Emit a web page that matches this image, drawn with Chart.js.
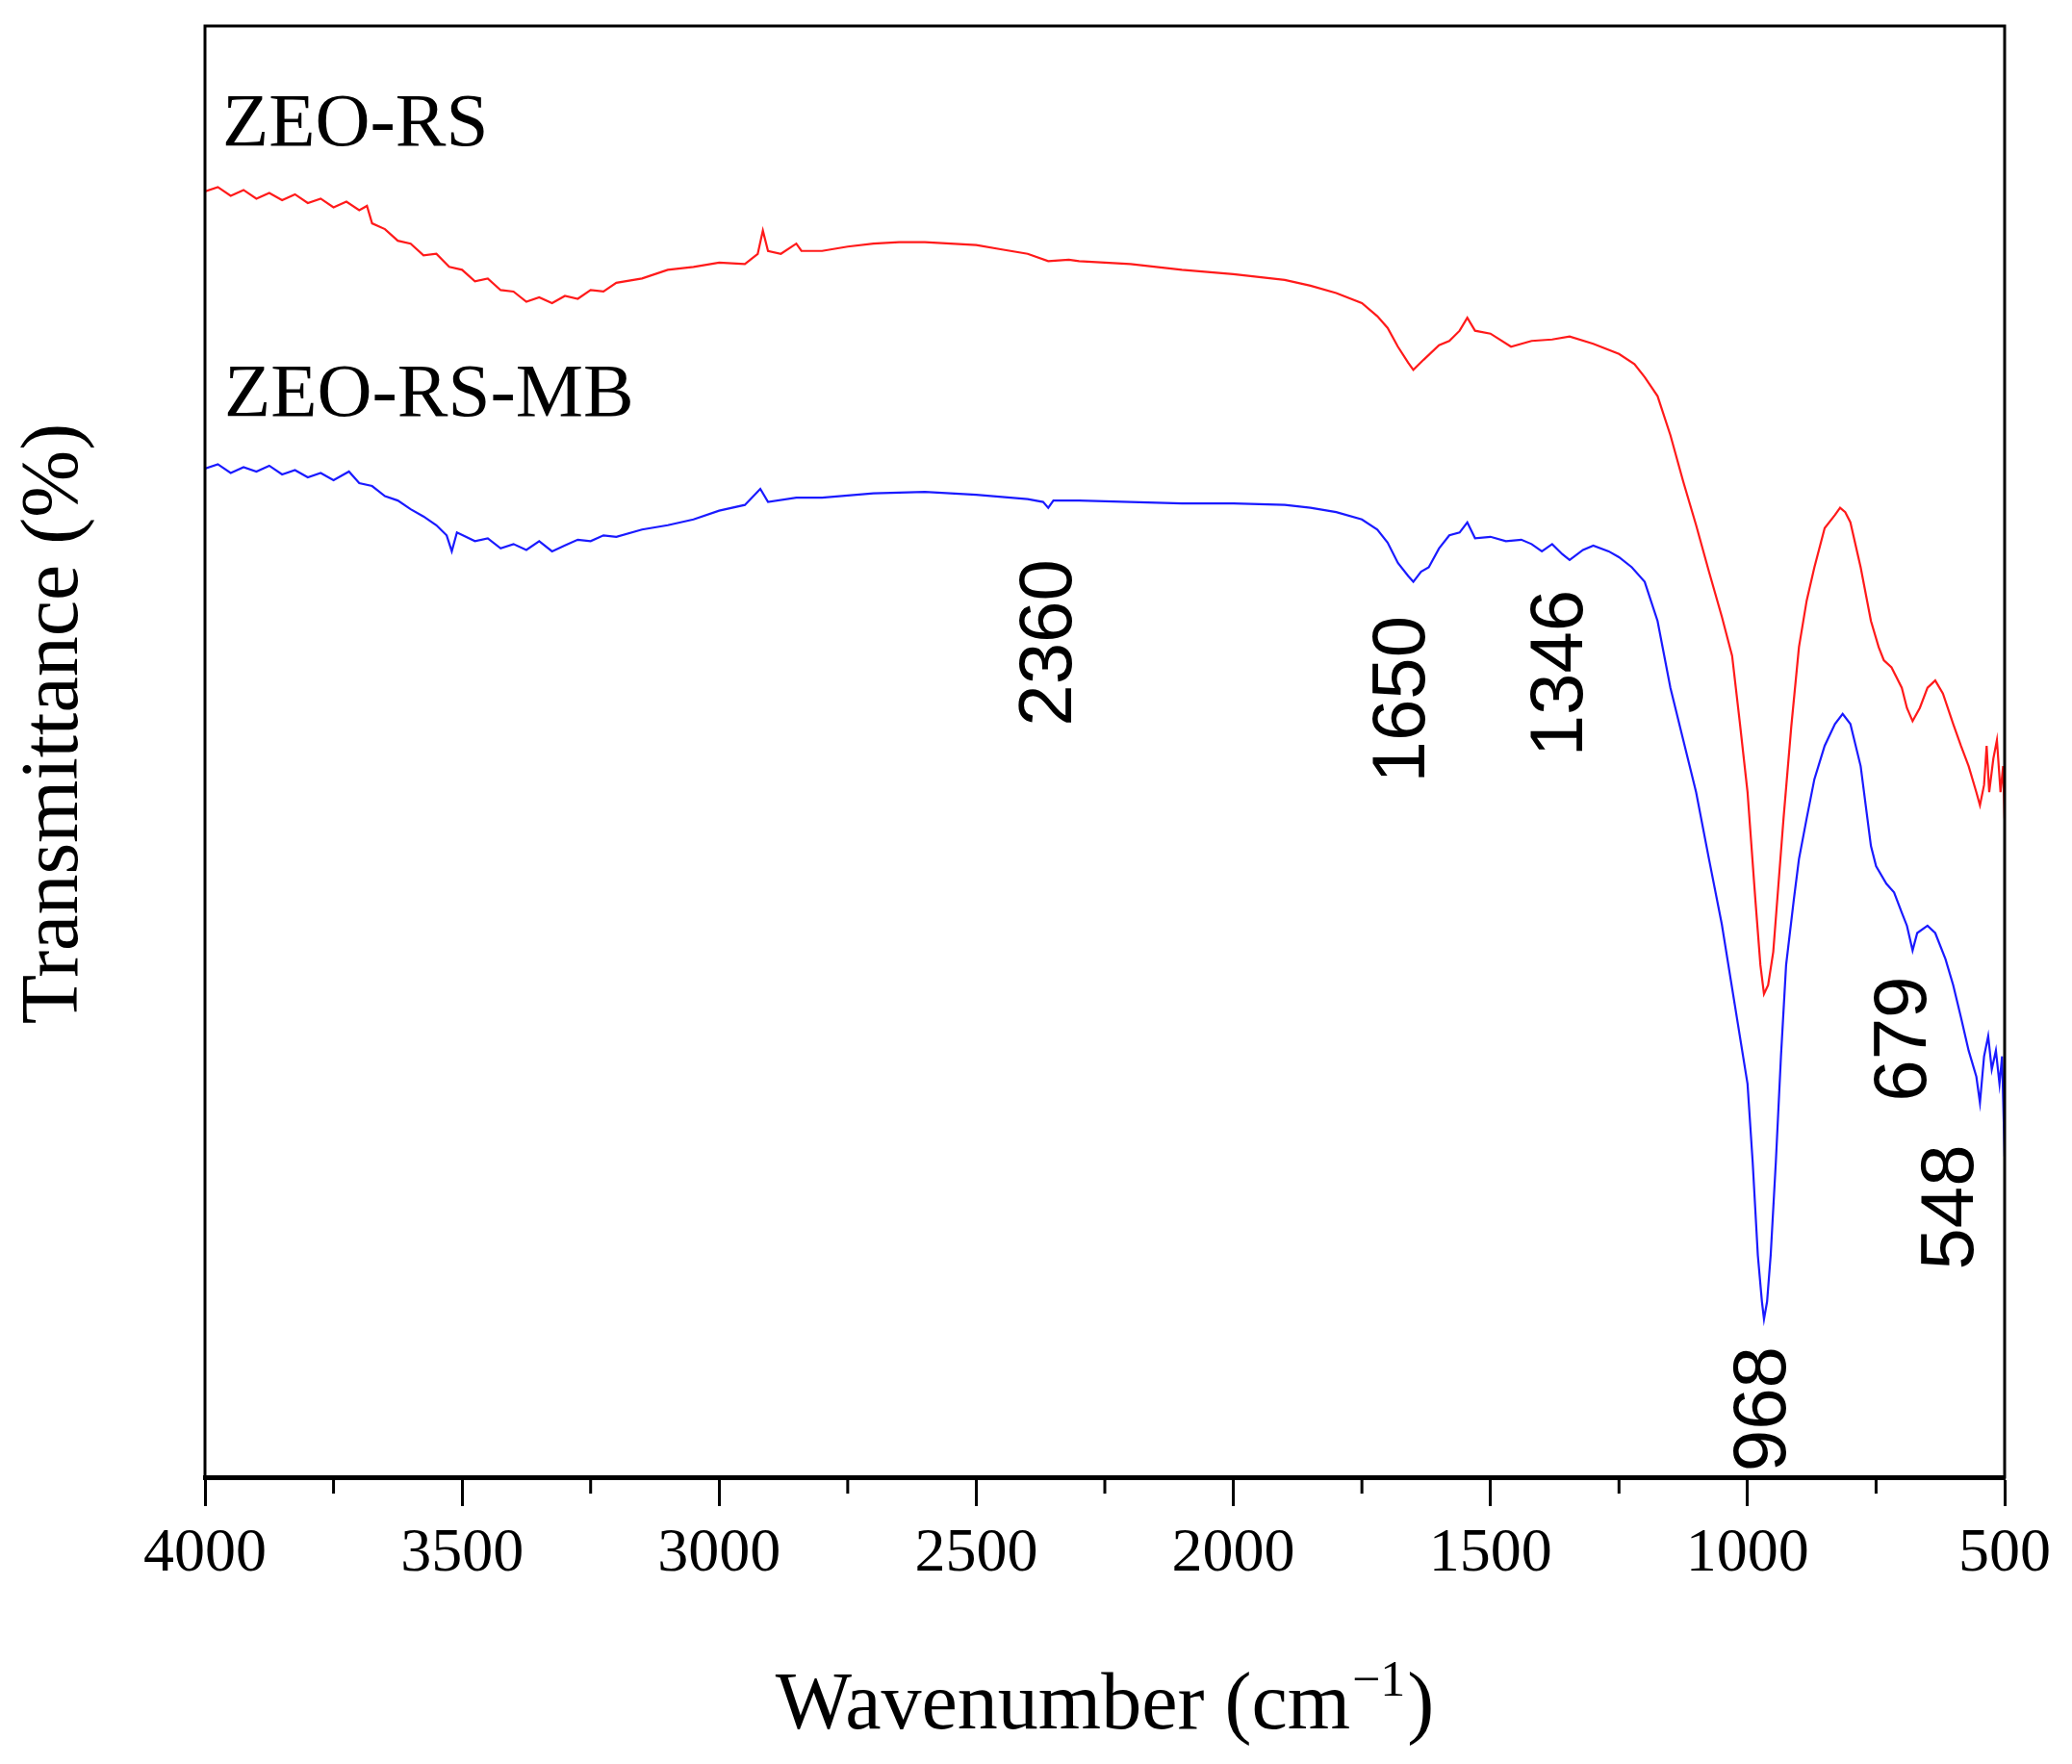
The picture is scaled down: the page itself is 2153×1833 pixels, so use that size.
<!DOCTYPE html>
<html>
<head>
<meta charset="utf-8">
<title>FTIR ZEO-RS</title>
<script src="https://cdn.jsdelivr.net/npm/chart.js@4.4.0/dist/chart.umd.min.js"></script>
<style>
  html, body { margin: 0; padding: 0; background: #fff; }
  canvas { display: block; }
</style>
</head>
<body>
<canvas id="ftir" width="2153" height="1833"></canvas>
<script>
// wavenumber (cm-1) and transmittance (arb. %)
const rsWave = [4000, 3975, 3950, 3925, 3900, 3875, 3850, 3825, 3800, 3775, 3750, 3725, 3700, 3685, 3675, 3650, 3625, 3600, 3575, 3550, 3525, 3500, 3475, 3450, 3425, 3400, 3375, 3350, 3325, 3300, 3275, 3250, 3225, 3200, 3150, 3100, 3050, 3000, 2950, 2925, 2915, 2905, 2880, 2850, 2840, 2800, 2750, 2700, 2650, 2600, 2550, 2500, 2450, 2400, 2360, 2320, 2300, 2200, 2100, 2000, 1900, 1850, 1800, 1750, 1720, 1700, 1680, 1660, 1650, 1630, 1600, 1580, 1560, 1545, 1530, 1500, 1460, 1420, 1380, 1346, 1300, 1250, 1220, 1200, 1175, 1150, 1125, 1100, 1075, 1050, 1030, 1015, 1000, 985, 975, 968, 960, 950, 940, 930, 915, 900, 885, 870, 850, 830, 820, 810, 800, 780, 760, 745, 735, 720, 700, 690, 679, 665, 650, 635, 620, 600, 585, 570, 555, 548, 540, 535, 530, 522, 515, 508, 503, 500];
const rsT = [88.6, 88.9, 88.3, 88.7, 88.1, 88.5, 88.0, 88.4, 87.8, 88.1, 87.5, 87.9, 87.3, 87.6, 86.4, 86.0, 85.2, 85.0, 84.2, 84.3, 83.4, 83.2, 82.4, 82.6, 81.8, 81.7, 81.0, 81.3, 80.9, 81.4, 81.2, 81.8, 81.7, 82.3, 82.6, 83.2, 83.4, 83.7, 83.6, 84.3, 85.9, 84.5, 84.3, 85.0, 84.5, 84.5, 84.8, 85.0, 85.1, 85.1, 85.0, 84.9, 84.6, 84.3, 83.8, 83.9, 83.8, 83.6, 83.2, 82.9, 82.5, 82.1, 81.6, 80.9, 80.0, 79.2, 77.9, 76.8, 76.3, 77.0, 78.0, 78.3, 79.0, 79.9, 79.0, 78.8, 77.9, 78.3, 78.4, 78.6, 78.1, 77.4, 76.7, 75.8, 74.5, 71.8, 68.6, 65.6, 62.4, 59.3, 56.6, 52.0, 47.2, 39.9, 35.3, 33.3, 33.9, 36.2, 40.8, 45.4, 51.7, 57.2, 60.4, 62.7, 65.4, 66.3, 66.8, 66.5, 65.8, 62.7, 59.0, 57.2, 56.3, 55.8, 54.4, 53.0, 52.1, 53.0, 54.4, 54.9, 54.0, 51.9, 50.4, 49.0, 47.2, 46.3, 47.7, 50.4, 47.2, 49.5, 50.8, 47.2, 49.0, 45.4];

const mbWave = [4000, 3975, 3950, 3925, 3900, 3875, 3850, 3825, 3800, 3775, 3750, 3720, 3700, 3675, 3650, 3625, 3600, 3575, 3550, 3530, 3520, 3510, 3475, 3450, 3425, 3400, 3375, 3350, 3325, 3300, 3275, 3250, 3225, 3200, 3150, 3100, 3050, 3000, 2950, 2920, 2905, 2850, 2800, 2700, 2600, 2500, 2400, 2370, 2360, 2350, 2300, 2200, 2100, 2000, 1900, 1850, 1800, 1750, 1720, 1700, 1680, 1660, 1650, 1635, 1620, 1600, 1580, 1560, 1545, 1530, 1500, 1470, 1440, 1420, 1400, 1380, 1360, 1346, 1320, 1300, 1270, 1250, 1225, 1200, 1175, 1150, 1125, 1100, 1075, 1050, 1025, 1000, 990, 980, 972, 968, 962, 955, 945, 935, 925, 910, 900, 885, 870, 850, 830, 815, 800, 780, 760, 750, 730, 715, 700, 690, 679, 670, 650, 635, 615, 600, 585, 570, 555, 548, 540, 532, 525, 517, 510, 505, 500];
const mbT = [69.5, 69.8, 69.2, 69.6, 69.3, 69.7, 69.1, 69.4, 68.9, 69.2, 68.7, 69.3, 68.5, 68.3, 67.6, 67.3, 66.7, 66.2, 65.6, 64.9, 63.8, 65.1, 64.5, 64.7, 64.0, 64.3, 63.9, 64.5, 63.8, 64.2, 64.6, 64.5, 64.9, 64.8, 65.3, 65.6, 66.0, 66.6, 67.0, 68.1, 67.2, 67.5, 67.5, 67.8, 67.9, 67.7, 67.4, 67.2, 66.8, 67.3, 67.3, 67.2, 67.1, 67.1, 67.0, 66.8, 66.5, 66.0, 65.3, 64.4, 63.0, 62.1, 61.7, 62.4, 62.7, 64.0, 64.9, 65.1, 65.8, 64.7, 64.8, 64.5, 64.6, 64.3, 63.8, 64.3, 63.6, 63.2, 63.9, 64.2, 63.8, 63.4, 62.7, 61.7, 59.0, 54.4, 50.8, 47.2, 42.6, 38.1, 32.6, 27.1, 21.7, 15.3, 12.1, 10.9, 12.1, 15.3, 21.7, 29.0, 35.3, 39.8, 42.6, 45.4, 48.1, 50.4, 51.9, 52.6, 51.9, 49.0, 43.5, 42.1, 40.9, 40.3, 38.9, 38.0, 36.3, 37.5, 38.0, 37.5, 35.7, 33.9, 31.7, 29.4, 27.6, 25.8, 29.0, 30.4, 28.1, 29.4, 27.1, 29.0, 22.1];

const xTicks = [4000, 3500, 3000, 2500, 2000, 1500, 1000, 500];

// peak labels: text and the wavenumber / transmittance the label is centred on
const peakText = ['2360', '1650', '1346', '968', '679', '548'];
const peakAtX = [2355, 1668, 1362, 967, 694, 602];
const peakAtY = [57.5, 53.6, 55.4, 4.7, 30.2, 18.6];

const toPoints = (xs, ys) => xs.map((v, i) => ({ x: v, y: ys[i] }));

const decorations = {
  id: 'decorations',
  afterDraw(chart) {
    const { ctx, chartArea: a, scales: { x, y } } = chart;
    ctx.save();
    ctx.strokeStyle = '#000';
    ctx.fillStyle = '#000';

    // frame
    ctx.lineWidth = 3;
    ctx.strokeRect(a.left, a.top, a.right - a.left, a.bottom - a.top);

    // minor ticks between the labelled ones
    ctx.lineWidth = 3;
    for (let i = 0; i < xTicks.length - 1; i++) {
      const px = x.getPixelForValue((xTicks[i] + xTicks[i + 1]) / 2);
      ctx.beginPath();
      ctx.moveTo(px, a.bottom);
      ctx.lineTo(px, a.bottom + 17);
      ctx.stroke();
    }

    // sample names
    ctx.font = '79px "Liberation Serif"';
    ctx.textAlign = 'left';
    ctx.textBaseline = 'alphabetic';
    ctx.fillText('ZEO-RS', a.left + 18, a.top + 124);
    ctx.fillText('ZEO-RS-MB', a.left + 20, a.top + 405);

    // rotated peak positions
    ctx.font = '78px "Liberation Sans"';
    ctx.textAlign = 'center';
    ctx.textBaseline = 'middle';
    peakText.forEach((t, i) => {
      ctx.save();
      ctx.translate(x.getPixelForValue(peakAtX[i]), y.getPixelForValue(peakAtY[i]));
      ctx.rotate(-Math.PI / 2);
      ctx.fillText(t, 0, 0);
      ctx.restore();
    });

    // y title
    ctx.save();
    ctx.font = '84px "Liberation Serif"';
    ctx.translate(58, 752);
    ctx.rotate(-Math.PI / 2);
    ctx.fillText('Transmittance (%)', 0, 0);
    ctx.restore();

    // x title with superscript
    const main = '84px "Liberation Serif"';
    const sup = '52px "Liberation Serif"';
    ctx.textAlign = 'left';
    ctx.textBaseline = 'alphabetic';
    ctx.font = main;
    const w1 = ctx.measureText('Wavenumber (cm').width;
    const w3 = ctx.measureText(')').width;
    ctx.font = sup;
    const w2 = ctx.measureText('\u22121').width + 4;
    let cx = (a.left + a.right) / 2 - (w1 + w2 + w3) / 2;
    const base = 1796;
    ctx.font = main;
    ctx.fillText('Wavenumber (cm', cx, base);
    ctx.font = sup;
    ctx.fillText('\u22121', cx + w1 + 2, base - 34);
    ctx.font = main;
    ctx.fillText(')', cx + w1 + w2, base);

    ctx.restore();
  }
};

new Chart(document.getElementById('ftir'), {
  type: 'line',
  data: {
    datasets: [{
      label: 'ZEO-RS',
      data: toPoints(rsWave, rsT),
      borderColor: '#ff1a1a',
      borderWidth: 2.2,
      pointRadius: 0,
      fill: false,
      tension: 0
    }, {
      label: 'ZEO-RS-MB',
      data: toPoints(mbWave, mbT),
      borderColor: '#1a1aff',
      borderWidth: 2.2,
      pointRadius: 0,
      fill: false,
      tension: 0
    }]
  },
  options: {
    responsive: false,
    devicePixelRatio: 1,
    animation: false,
    layout: { padding: { left: 213, right: 70, top: 27, bottom: 0 } },
    plugins: { legend: { display: false }, tooltip: { enabled: false } },
    scales: {
      x: {
        type: 'linear',
        reverse: true,
        min: 500,
        max: 4000,
        afterBuildTicks: (scale) => { scale.ticks = xTicks.map(v => ({ value: v })); },
        afterFit: (scale) => { scale.height = 298; },
        ticks: {
          autoSkip: false,
          maxRotation: 0,
          padding: 12,
          color: '#000',
          font: { family: 'Liberation Serif', size: 64 },
          callback: (v) => String(v)
        },
        grid: {
          drawOnChartArea: false,
          drawTicks: true,
          tickLength: 30,
          tickWidth: 3,
          tickColor: '#000'
        },
        border: { display: true, color: '#000', width: 5 }
      },
      y: {
        display: false,
        min: 0,
        max: 100
      }
    }
  },
  plugins: [decorations]
});
</script>
</body>
</html>
